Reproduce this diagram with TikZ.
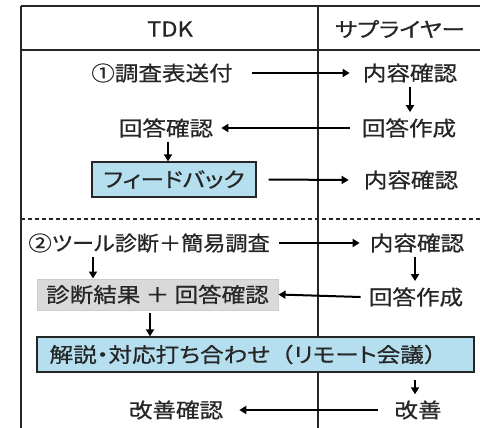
\documentclass[tikz,border=0pt]{standalone}
\usepackage{fontspec}
\setmainfont{Noto Sans CJK JP}[FakeStretch=1.15,FakeBold=0.7,RawFeature=+palt]
\newfontfamily\fullw{Noto Sans CJK JP}[FakeStretch=1.15,FakeBold=0.7]
\newfontfamily\narrowf{Noto Sans CJK JP}[FakeStretch=1.08,FakeBold=0.7,RawFeature=+palt]
\usetikzlibrary{arrows.meta}
\definecolor{boxblue}{HTML}{B5DFEF}
\definecolor{boxgray}{HTML}{D9D9D9}
\definecolor{linec}{HTML}{262626}
\tikzset{
  txt/.style={inner sep=1pt,font=\fontsize{20.5}{23}\selectfont,text=black!85},
  bluebox/.style={txt,draw=linec,line width=1.3pt,fill=boxblue,minimum height=35pt},
  graybox/.style={txt,draw=black!20,line width=1pt,fill=boxgray,minimum height=31pt},
  arr/.style={-{Triangle[length=7pt,width=8pt]},line width=2pt,black},
  grid/.style={line width=1.4pt,linec},
}
\begin{document}
\begin{tikzpicture}[x=1pt,y=-1pt]
\useasboundingbox (0,0) rectangle (480,428);
% table lines
\coordinate (tl) at (21,6);
\coordinate (tr) at (482,6);
\coordinate (hl) at (21,50);
\coordinate (hr) at (482,50);
\coordinate (ml) at (318,6);
\coordinate (mb) at (318,430);
\coordinate (lb) at (21,430);
\coordinate (dl) at (21,219);
\coordinate (dr) at (482,219);
\draw[grid] (tl) -- (tr);
\draw[grid] (hl) -- (hr);
\draw[grid] (tl) -- (lb);
\draw[grid] (ml) -- (mb);
\draw[grid,dash pattern=on 4pt off 3pt,line width=1.2pt] (dl) -- (dr);
% header
\node[txt] (hTDK) at (170,29) {TDK};
\node[txt] (hSup) at (400,29) {サプライヤー};
% part 1
\node[txt] (a1) at (162,73) {{\fullw ①}調査表送付};
\node[txt] (b1) at (410,73) {内容確認};
\node[txt] (b2) at (409,128) {回答作成};
\node[txt] (a2) at (166,128) {回答確認};
\node[bluebox,minimum width=164pt] (fb) at (174,179.5) {フィードバック};
\node[txt] (b3) at (411,180) {内容確認};
\draw[arr] ([xshift=18pt]a1.east) -- ([xshift=-12pt]b1.west);
\coordinate (c0) at (410,0);
\draw[arr] ([yshift=-3pt]b1.south -| c0) -- ([yshift=5pt]b2.north -| c0);
\draw[arr] ([xshift=-11pt]b2.west) -- ([xshift=7pt]a2.east);
\coordinate (c5) at (168,0);
\draw[arr] ([yshift=-3pt]a2.south -| c5) -- (fb.north -| c5);
\draw[arr] ([xshift=12pt]fb.east) -- ([xshift=-14pt]b3.west);
% part 2
\node[txt,font=\fontsize{20.5}{23}\narrowf] (a3) at (149,243) {{\fullw ②}ツール診断＋簡易調査};
\node[txt] (b4) at (417,243) {内容確認};
\node[txt] (b5) at (416,297) {回答作成};
\node[graybox,minimum width=241pt] (gr) at (157.5,294.5) {診断結果 ＋ 回答確認};
\node[bluebox,minimum width=437pt] (mt) at (255.5,354.5) {解説・対応打ち合わせ{\fullw （}リモート会議{\fullw ）}\kern14pt};
\node[txt] (b6) at (418,410) {改善};
\node[txt] (a4) at (176,410) {改善確認};
\draw[arr] ([xshift=8pt]a3.east) -- ([xshift=-9pt]b4.west);
\coordinate (c1) at (415,0);
\draw[arr] ([yshift=-3pt]b4.south -| c1) -- ([yshift=5pt]b5.north -| c1);
\draw[arr] ([xshift=-7pt]b5.west) -- (gr.east);
\coordinate (c2) at (93,0);
\draw[arr] ([yshift=-3pt]a3.south -| c2) -- (gr.north -| c2);
\coordinate (c3) at (150,0);
\draw[arr] ([yshift=-2pt]gr.south -| c3) -- (mt.north -| c3);
\coordinate (c4) at (415,0);
\draw[arr] ([yshift=-7pt]mt.south -| c4) -- ([yshift=5pt]b6.north -| c4);
\draw[arr] ([xshift=-15pt]b6.west) -- ([xshift=15pt]a4.east);
\end{tikzpicture}
\end{document}
